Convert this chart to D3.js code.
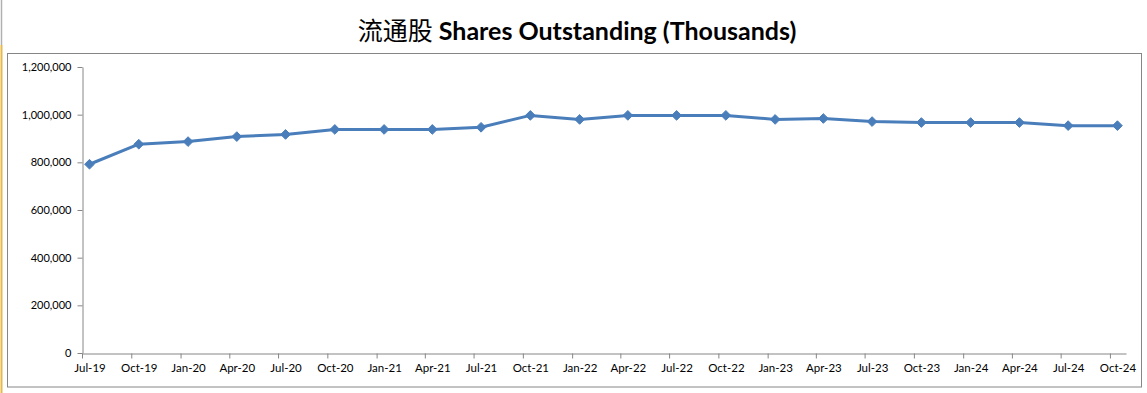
<!DOCTYPE html>
<html>
<head>
<meta charset="utf-8">
<script src="https://cdn.jsdelivr.net/npm/d3@7"></script>
<style>
  html, body { margin: 0; padding: 0; background: #fff; }
  svg { display: block; }
</style>
</head>
<body>
<script>
// ---- data ----
const categories = ["Jul-19","Oct-19","Jan-20","Apr-20","Jul-20","Oct-20","Jan-21","Apr-21","Jul-21","Oct-21","Jan-22","Apr-22","Jul-22","Oct-22","Jan-23","Apr-23","Jul-23","Oct-23","Jan-24","Apr-24","Jul-24","Oct-24"];
const sharesOutstanding = [792000, 876000, 887000, 908000, 917000, 938000, 938000, 938000, 947000, 997000, 980000, 997000, 997000, 997000, 980000, 984000, 971000, 967000, 967000, 967000, 954000, 954000];
const yTicks = [0, 200000, 400000, 600000, 800000, 1000000, 1200000];
const titleCN = "流通股";
const titleEN = " Shares Outstanding (Thousands)";

// ---- layout ----
const W = 1147, H = 393;
const svg = d3.select("body").append("svg").attr("width", W).attr("height", H);
const font = "Lato, 'Open Sans', sans-serif";
const axisColor = "#868686";

// left window edges
svg.append("line").attr("x1", 1.5).attr("x2", 1.5).attr("y1", 0).attr("y2", 45).attr("stroke", "#b0b0b0").attr("stroke-width", 1.5);
svg.append("line").attr("x1", 1.5).attr("x2", 1.5).attr("y1", 45).attr("y2", H).attr("stroke", "#e8b84a").attr("stroke-width", 2);

// plot frame
svg.append("rect").attr("x", 7.5).attr("y", 53.5).attr("width", 1134).attr("height", 333.5)
  .attr("fill", "none").attr("stroke", axisColor).attr("stroke-width", 1);

// title
const title = svg.append("text").attr("x", 577).attr("y", 40).attr("text-anchor", "middle")
  .attr("font-size", 25).attr("fill", "#000");
title.append("tspan").attr("font-family", "'Noto Sans CJK SC', sans-serif").attr("font-weight", 400).text(titleCN);
title.append("tspan").attr("font-family", font).attr("font-weight", 700).text(titleEN);

// ---- scales ----
const monthIdx = {Jan:0, Feb:1, Mar:2, Apr:3, May:4, Jun:5, Jul:6, Aug:7, Sep:8, Oct:9, Nov:10, Dec:11};
const parseCat = (c, day) => { const [m, y] = c.split("-"); return new Date(2000 + (+y), monthIdx[m], day); };
const tickDates = categories.map(c => parseCat(c, 1));
const dataDates = categories.map(c => parseCat(c, 15));
const lastDate = new Date(2024, 9, 31);

const x = d3.scaleTime().domain([tickDates[0], lastDate]).range([82, 1126]);
const y = d3.scaleLinear().domain([0, 1200000]).range([353, 67]);

// y axis
const yAxis = svg.append("g").attr("transform", "translate(82.5,0)")
  .call(d3.axisLeft(y).tickValues(yTicks).tickFormat(d3.format(",")).tickSize(5).tickSizeOuter(0).tickPadding(6));
yAxis.select(".domain").attr("stroke", axisColor);
yAxis.selectAll(".tick line").attr("stroke", axisColor);
yAxis.selectAll(".tick text").attr("font-family", font).attr("font-size", 11).attr("fill", "#000");

// x axis (tick marks)
const xAxis = svg.append("g").attr("transform", "translate(0,353.5)")
  .call(d3.axisBottom(x).tickValues(tickDates).tickFormat("").tickSize(5).tickSizeOuter(0));
xAxis.select(".domain").attr("stroke", axisColor);
xAxis.selectAll(".tick line").attr("stroke", axisColor);

// x axis labels (centered on data points)
const xLab = svg.append("g").attr("transform", "translate(0,360)")
  .call(d3.axisBottom(x).tickValues(dataDates).tickFormat((d, i) => categories[i]).tickSize(0).tickPadding(4));
xLab.select(".domain").remove();
xLab.selectAll(".tick text").attr("font-family", font).attr("font-size", 11.5).attr("fill", "#000");

// ---- series ----
const pts = dataDates.map((d, i) => ({ d, v: sharesOutstanding[i] }));
const lineColor = "#4a7ebb";
svg.append("path").datum(pts)
  .attr("d", d3.line().x(p => x(p.d)).y(p => y(p.v)))
  .attr("fill", "none").attr("stroke", lineColor).attr("stroke-width", 3).attr("stroke-linejoin", "round");

svg.append("g").selectAll("path").data(pts).join("path")
  .attr("transform", p => `translate(${x(p.d)},${y(p.v)})`)
  .attr("d", d3.symbol().type(d3.symbolDiamond2).size(60))
  .attr("fill", lineColor).attr("stroke", lineColor).attr("stroke-width", 1);
</script>
</body>
</html>
